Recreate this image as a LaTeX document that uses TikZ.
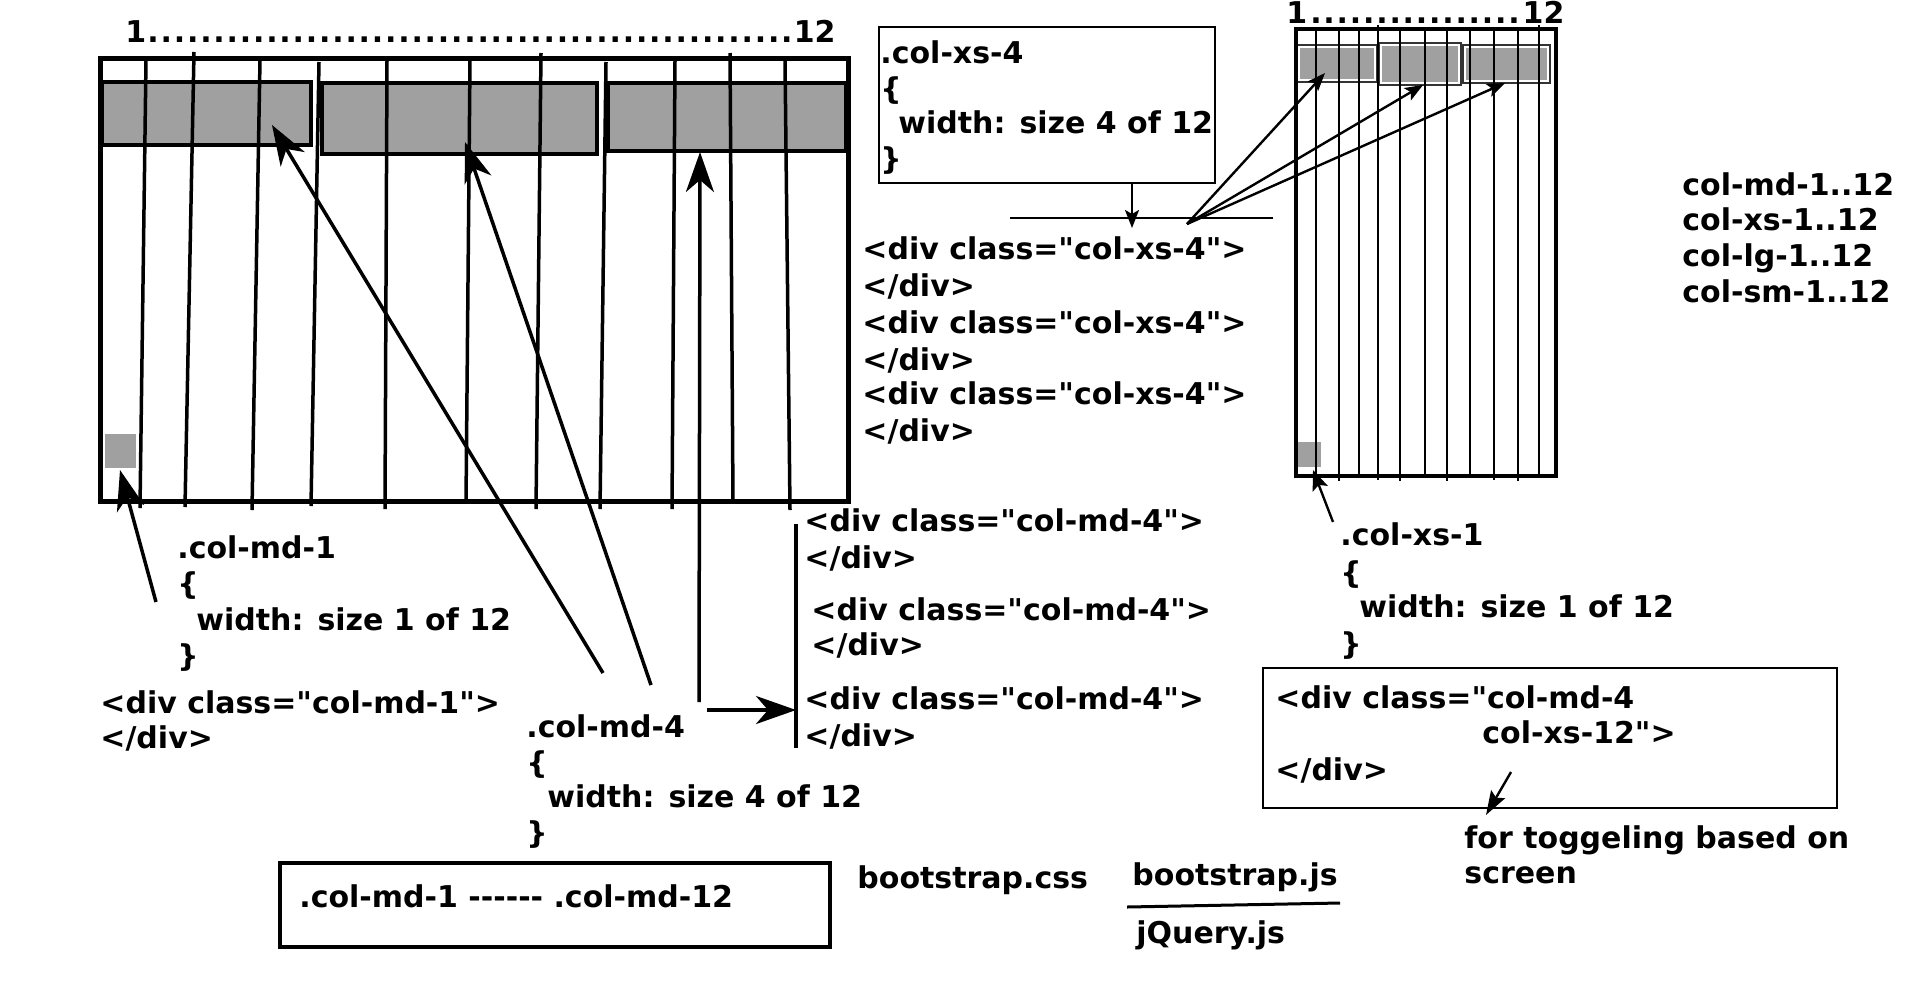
\documentclass[tikz,border=0pt]{standalone}
\usepackage{fontspec}
\newfontfamily\codefont{DejaVu Sans}
\usetikzlibrary{arrows.meta}
\definecolor{cellgray}{HTML}{A0A0A0}
\tikzset{
  code/.style={anchor=base west, inner sep=0pt, font=\codefont\bfseries\fontsize{15}{18}\selectfont},
  gridline/.style={line width=1.75pt},
  bigarrow/.style={line width=1.75pt, -{Stealth[length=20pt, width=14pt, inset=6pt]}},
  smallarrow/.style={line width=1.2pt, -{Stealth[length=9pt, width=7pt, inset=2pt]}},
}

\begin{document}
\begin{tikzpicture}[x=0.5pt, y=-0.5pt]
    \useasboundingbox (0,0) rectangle (1920,991);

    % Medium screen grid (12 columns)
    \node[code] (mdscale) at (125,42) {\makebox[355pt]{1\dotfill 12}};
    \foreach \xa/\ya/\xb/\yb in {102/82/311/145, 322/83/597/154, 608/83/846/151}
        \draw[line width=2pt, fill=cellgray] (\xa,\ya) rectangle (\xb,\yb);
    \fill[cellgray] (105,434) rectangle (136,468);
    \draw[line width=2.5pt] (100,58) rectangle (848,501);
    \foreach \xa/\ya/\xb/\yb in {146/60/140/508, 194/52/185/507, 260/60/252/510,
        319/62/311/506, 387/60/385/509, 470/60/466/503, 541/53/536/509,
        606/62/600/509, 675/60/672/509, 730/53/733/503, 785/60/790/510}
        \draw[gridline] (\xa,\ya) -- (\xb,\yb);

    % Small screen grid
    \node[code] (xsscale) at (1286,23) {\makebox[139pt]{1\dotfill 12}};
    \foreach \xa/\ya/\xb/\yb in {1297/45/1377/82, 1379/43/1461/85, 1463/45/1550/83} {
        \filldraw[draw=black!80, fill=white, line width=1pt] (\xa,\ya) rectangle (\xb,\yb);
        \fill[cellgray] (\xa+3,\ya+3) rectangle (\xb-3,\yb-3);
    }
    \fill[cellgray] (1298,442) rectangle (1321,467);
    \draw[line width=2.2pt] (1296,29) rectangle (1556,476);
    \foreach \x/\ya/\yb in {1316/29/476, 1339/29/481, 1359/29/476, 1378/25/480,
        1400/29/481, 1425/29/476, 1447/29/481, 1470/29/476, 1494/29/480,
        1518/29/481, 1539/25/476}
        \draw[line width=1.4pt] (\x,\ya) -- (\x,\yb);

    % Breakpoint names
    \node[code] (mdrange) at (1682,195) {col-md-1..12};
    \node[code] (xsrange) at (1682,230) {col-xs-1..12};
    \node[code] (lgrange) at (1682,266) {col-lg-1..12};
    \node[code] (smrange) at (1682,302) {col-sm-1..12};

    % .col-xs-4 rule
    \draw[line width=1.2pt] (879,27) rectangle (1215,183);
    \node[code] (xsname) at (880,63) {.col-xs-4};
    \node[code] (xsopen) at (880,99) {\{};
    \node[code] (xswidth) at (898,133) {width: size 4 of 12};
    \node[code] (xsclose) at (880,169) {\}};
    \coordinate (xsdrop) at (1132,183);
    \coordinate (xsbar) at (1132,228);
    \draw[line width=1.2pt] (1010,218) -- (1273,218);
    \draw[smallarrow] (xsdrop) -- (xsbar);

    % fan of arrows into the small grid
    \coordinate (fan) at (1187,224);
    \coordinate (xscellA) at (1325,73);
    \coordinate (xscellB) at (1423,85);
    \coordinate (xscellC) at (1505,83);
    \draw[smallarrow] (fan) -- (xscellA);
    \draw[smallarrow] (fan) -- (xscellB);
    \draw[smallarrow] (fan) -- (xscellC);

    \foreach \y/\n in {259/1, 333/2, 404/3} {
        \node[code] (xsdiv\n) at (862,\y) {<div class="col-xs-4">};
        \node[code] (xsend\n) at (862,\y+37) {</div>};
    }

    % .col-md-1 rule
    \node[code] (mdonename) at (177,558) {.col-md-1};
    \node[code] (mdoneopen) at (177,594) {\{};
    \node[code] (mdonewidth) at (196,630) {width: size 1 of 12};
    \node[code] (mdoneclose) at (177,666) {\}};
    \node[code] (mdonediv) at (100,713) {<div class="col-md-1">};
    \node[code] (mdoneend) at (100,748) {</div>};
    \coordinate (mdonetail) at (156,602);
    \coordinate (mdonecell) at (120,470);
    \draw[bigarrow] (mdonetail) -- (mdonecell);

    % .col-md-4 rule
    \node[code] (mdfourname) at (526,737) {.col-md-4};
    \node[code] (mdfouropen) at (526,773) {\{};
    \node[code] (mdfourwidth) at (547,807) {width: size 4 of 12};
    \node[code] (mdfourclose) at (526,843) {\}};
    \coordinate (tailA) at (603,673);
    \coordinate (tailB) at (651,685);
    \coordinate (tailC) at (699,702);
    \coordinate (cellA) at (272,125);
    \coordinate (cellB) at (465,142);
    \coordinate (cellC) at (700,152);
    \draw[bigarrow] (tailA) -- (cellA);
    \draw[bigarrow] (tailB) -- (cellB);
    \draw[bigarrow] (tailC) -- (cellC);

    % the three md-4 divs
    \coordinate (bartop) at (796,524);
    \coordinate (barbot) at (796,748);
    \coordinate (barmid) at (796,710);
    \coordinate (mdfourtail) at (707,710);
    \draw[line width=1.6pt] (bartop) -- (barbot);
    \draw[bigarrow, line width=2pt] (mdfourtail) -- (barmid);
    \node[code] (mddiv1) at (804,531) {<div class="col-md-4">};
    \node[code] (mdend1) at (804,568) {</div>};
    \node[code] (mddiv2) at (811,620) {<div class="col-md-4">};
    \node[code] (mdend2) at (811,655) {</div>};
    \node[code] (mddiv3) at (804,709) {<div class="col-md-4">};
    \node[code] (mdend3) at (804,746) {</div>};

    % .col-xs-1 rule
    \node[code] (xsonename) at (1340,545) {.col-xs-1};
    \node[code] (xsoneopen) at (1340,583) {\{};
    \node[code] (xsonewidth) at (1359,617) {width: size 1 of 12};
    \node[code] (xsoneclose) at (1340,654) {\}};
    \coordinate (xsonetail) at (1333,522);
    \coordinate (xsonecell) at (1313,470);
    \draw[smallarrow, -{Stealth[length=10pt, width=8pt, inset=2pt]}] (xsonetail) -- (xsonecell);

    % combined classes
    \draw[line width=1.3pt] (1263,668) rectangle (1837,808);
    \node[code] (bothdiv) at (1275,708) {<div class="col-md-4};
    \node[code] (bothxs) at (1482,743) {col-xs-12">};
    \node[code] (bothend) at (1275,780) {</div>};
    \coordinate (bothtail) at (1511,772);
    \coordinate (bothtip) at (1486,815);
    \draw[smallarrow, -{Stealth[length=12pt, width=8pt, inset=2pt]}] (bothtail) -- (bothtip);
    \node[code] (toggle) at (1464,848) {for toggeling based on};
    \node[code] (toggletwo) at (1464,883) {screen};

    % files
    \draw[line width=2pt] (280,863) rectangle (830,947);
    \node[code] (mdall) at (299,907) {.col-md-1 -{}-{}-{}-{}-{}- .col-md-12};
    \node[code] (css) at (857,888) {bootstrap.css};
    \node[code] (js) at (1132,885) {bootstrap.js};
    \node[code] (jquery) at (1136,943) {jQuery.js};
    \draw[line width=1.5pt] (1127,907) -- (1340,903);
\end{tikzpicture}
\end{document}
